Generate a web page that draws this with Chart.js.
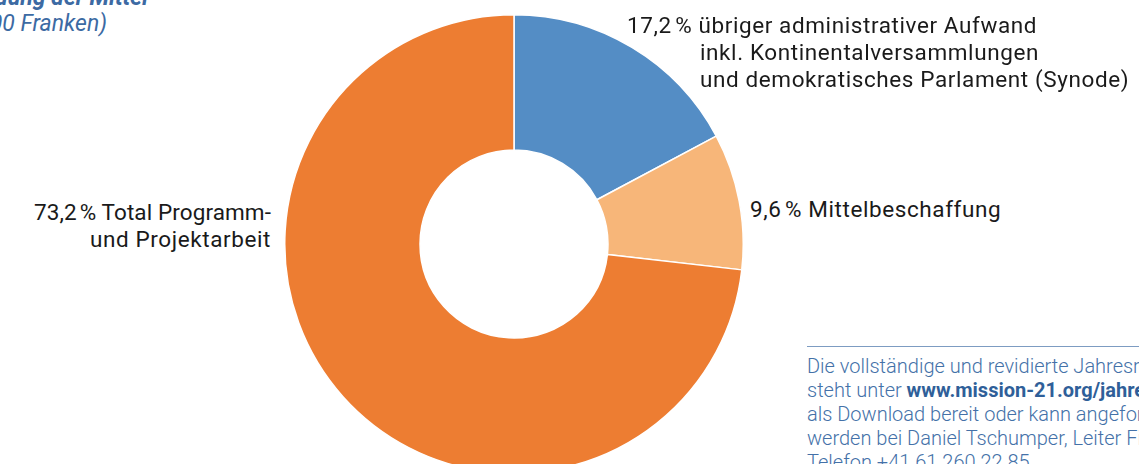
<!DOCTYPE html>
<html>
<head>
<meta charset="utf-8">
<script src="https://cdn.jsdelivr.net/npm/chart.js@4.4.1/dist/chart.umd.min.js"></script>
<style>
  html, body { margin: 0; padding: 0; width: 1139px; height: 464px; overflow: hidden; background: #fff; position: relative; }
  body { font-family: Roboto, "DejaVu Sans", sans-serif; }
  .donut-box { position: absolute; left: 284px; top: 14px; width: 460px; height: 460px; }
  .lbl { position: absolute; color: #1a1a1a; font-size: 22.5px; line-height: 27px; letter-spacing: 0.6px; white-space: nowrap; }
  .title { position: absolute; color: #3c6aa3; font-style: italic; white-space: nowrap; font-size: 23px; text-align: right; }
  .note { position: absolute; left: 807px; top: 346px; width: 400px; border-top: 1.5px solid #7d9cc2; padding-top: 7px;
          color: #4471a8; font-size: 20px; font-weight: 300; line-height: 24px; white-space: nowrap; }
  .note b { font-weight: 700; color: #2f5f99; }
</style>
</head>
<body>
<div class="title" style="right:991px; top:-16px; font-weight:700;">Verwendung der Mittel</div>
<div class="title" style="right:1032px; top:10px;">(in 1000 Franken)</div>

<div class="donut-box"><canvas id="myDonut"></canvas></div>

<div class="lbl" style="left:627px; top:12px;">17,2&#8239;% übriger administrativer Aufwand<br>
  <span style="padding-left:73px">inkl. Kontinentalversammlungen</span><br>
  <span style="padding-left:73px">und demokratisches Parlament (Synode)</span></div>
<div class="lbl" style="right:868px; top:199px; text-align:right;"><span style="letter-spacing:0.1px">73,2&#8239;% Total Programm-</span><br>und Projektarbeit</div>
<div class="lbl" style="left:750px; top:196px;">9,6&#8239;% Mittelbeschaffung</div>

<div class="note">Die vollständige und revidierte Jahresrechnung<br>
steht unter <b>www.mission-21.org/jahresbericht</b><br>
als Download bereit oder kann angefordert<br>
werden bei Daniel Tschumper, Leiter Finanzen,<br>
Telefon +41 61 260 22 85</div>

<script>
let labels = ['übriger administrativer Aufwand', 'Mittelbeschaffung', 'Total Programm- und Projektarbeit'];
let values = [17.2, 9.6, 73.2];
let colors = ['#548dc5', '#f7b679', '#ed7d32'];

let ctx = document.getElementById('myDonut').getContext('2d');
let myDonut = new Chart(ctx, {
  type: 'doughnut',
  data: {
    labels: labels,
    datasets: [{
      data: values,
      backgroundColor: colors,
      borderColor: '#ffffff',
      borderWidth: 1.5,
    }],
  },
  options: {
    responsive: true,
    maintainAspectRatio: false,
    animation: false,
    cutout: '41%',
    plugins: {
      legend: { display: false },
      tooltip: { enabled: false },
    },
  },
});
</script>
</body>
</html>
